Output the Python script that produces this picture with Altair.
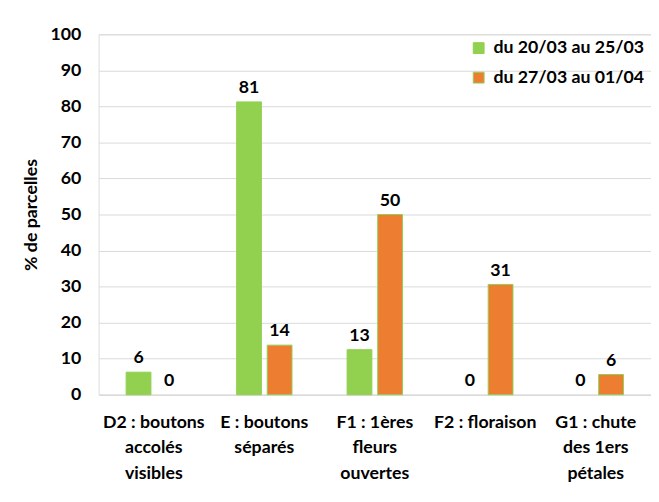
import altair as alt
import pandas as pd

categories = ["D2 : boutons\naccolés\nvisibles", "E : boutons\nséparés",
              "F1 : 1ères\nfleurs\nouvertes", "F2 : floraison",
              "G1 : chute\ndes 1ers\npétales"]
series = ["du 20/03 au 25/03", "du 27/03 au 01/04"]
values_s1 = [6.25, 81.25, 12.5, 0, 0]
values_s2 = [0, 13.75, 50, 30.6, 5.6]

rows = []
for c, v1, v2 in zip(categories, values_s1, values_s2):
    rows.append({"cat": c, "serie": series[0], "val": v1})
    rows.append({"cat": c, "serie": series[1], "val": v2})
df = pd.DataFrame(rows)

FONT = "Lato"
FS = 18
green = "#92D050"
orange = "#ED7D31"

x = alt.X("cat:N", sort=categories, title=None,
          scale=alt.Scale(paddingInner=0, paddingOuter=0),
          axis=alt.Axis(labelExpr="split(datum.label, '\\n')", labelAngle=0,
                        labelFont=FONT, labelFontSize=FS, labelFontWeight="bold",
                        labelColor="#000", labelLineHeight=26, labelPadding=28,
                        ticks=False, domainColor="#d9d9d9", grid=False,
                        labelBaseline="middle"))
xo = alt.XOffset("serie:N", sort=series,
                 scale=alt.Scale(paddingInner=0.19, paddingOuter=0.9))
y = alt.Y("val:Q", title="% de parcelles",
          scale=alt.Scale(domain=[0, 100]),
          axis=alt.Axis(values=list(range(0, 101, 10)), labelFont=FONT,
                        labelFontSize=FS, labelFontWeight="bold", labelColor="#000",
                        labelPadding=18, ticks=False, domain=False, grid=True,
                        gridColor="#d9d9d9", titleFont=FONT, titleFontSize=18,
                        titleFontWeight="bold", titleColor="#000", titlePadding=10))

color = alt.Color("serie:N", sort=series,
                  scale=alt.Scale(domain=series, range=[green, orange]),
                  legend=alt.Legend(title=None, orient="none", legendX=377, legendY=5,
                                    symbolType="square", symbolSize=121,
                                    symbolStrokeColor=green, symbolStrokeWidth=1,
                                    labelFont=FONT, labelFontSize=FS,
                                    labelFontWeight="bold", labelColor="#000",
                                    rowPadding=12, labelOffset=6))

bars = alt.Chart(df).mark_bar(stroke=green, strokeWidth=1).encode(
    x=x, xOffset=xo, y=y, color=color,
    strokeOpacity=alt.condition("datum.val > 0", alt.value(1), alt.value(0)))

labels = alt.Chart(df).mark_text(font=FONT, fontSize=FS, fontWeight="bold",
                                 color="#000", baseline="bottom", dy=-5).encode(
    x=x, xOffset=xo, y=y,
    text=alt.Text("val:Q", format=".0f"))

chart = alt.layer(bars, labels).properties(
    width=561, height=366,
    autosize=alt.AutoSizeParams(type="none"),
    padding={"left": 92, "top": 23, "right": 0, "bottom": 90},
).configure_view(stroke=None).configure(background="white")

chart.save("out.html", embed_options={"renderer": "svg", "actions": False})
